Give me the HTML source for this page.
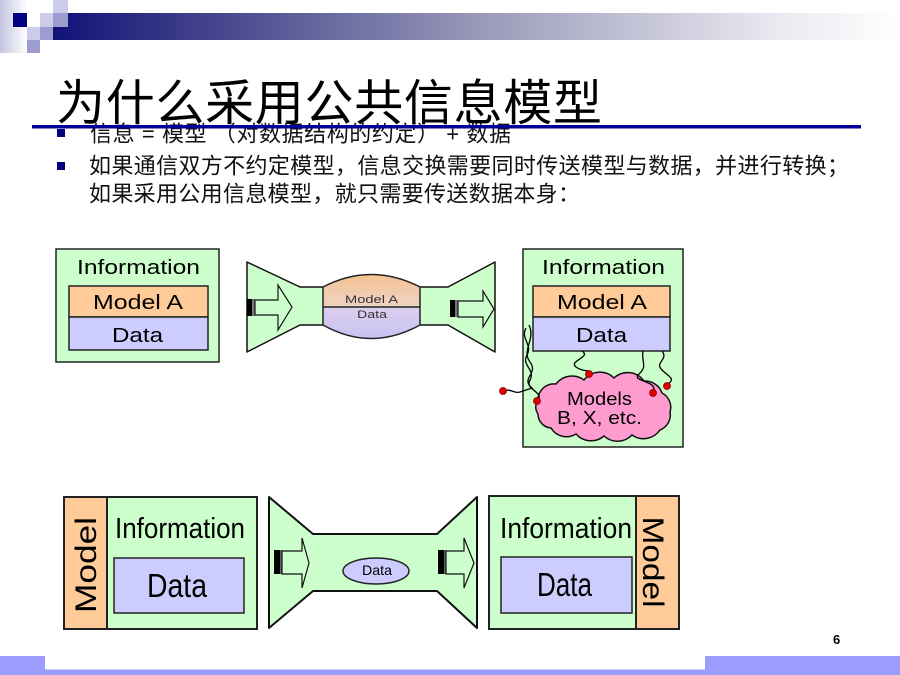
<!DOCTYPE html>
<html><head><meta charset="utf-8"><style>
html,body{margin:0;padding:0;background:#fff;}
svg{display:block;}
</style></head><body>
<svg width="900" height="675" viewBox="0 0 900 675" xmlns="http://www.w3.org/2000/svg">
<defs>
<linearGradient id="bar" x1="0" y1="0" x2="1" y2="0">
<stop offset="0" stop-color="#101078"/>
<stop offset="0.15" stop-color="#3a3a88"/>
<stop offset="0.5" stop-color="#9898b8"/>
<stop offset="0.85" stop-color="#e8e8f0"/>
<stop offset="1" stop-color="#ffffff"/>
</linearGradient>
<linearGradient id="lstrip" x1="0" y1="0" x2="1" y2="0">
<stop offset="0" stop-color="#c4c4e2"/>
<stop offset="1" stop-color="#ffffff"/>
</linearGradient>
<linearGradient id="lens" x1="0" y1="0" x2="0" y2="1">
<stop offset="0" stop-color="#f6c292"/>
<stop offset="0.49" stop-color="#efd2c2"/>
<stop offset="0.5" stop-color="#ddd0ec"/>
<stop offset="1" stop-color="#c6c2f4"/>
</linearGradient>
</defs>

<!-- top decoration -->
<rect x="0" y="0" width="27" height="53" fill="url(#lstrip)"/>
<rect x="53" y="13" width="847" height="27" fill="url(#bar)"/>
<rect x="13" y="13" width="14" height="14" fill="#000080"/>
<rect x="27" y="13" width="13" height="14" fill="#ffffff"/>
<rect x="53" y="0" width="15" height="13" fill="#ccccea"/>
<rect x="40" y="13" width="13" height="14" fill="#ccccea"/>
<rect x="53" y="13" width="15" height="14" fill="#9c9cce"/>
<rect x="27" y="27" width="13" height="13" fill="#ccccea"/>
<rect x="40" y="27" width="13" height="13" fill="#9c9cce"/>
<rect x="27" y="40" width="13" height="13" fill="#9c9cce"/>

<!-- title -->
<text x="56" y="120" font-family="'Liberation Sans','Noto Sans CJK SC',sans-serif" font-size="49" fill="#000" textLength="546" lengthAdjust="spacing">为什么采用公共信息模型</text>

<!-- bullets -->
<rect x="57" y="129" width="8" height="8" fill="#000080"/>
<rect x="57" y="162" width="8" height="8" fill="#000080"/>
<text x="90" y="141.5" font-family="'Liberation Sans','Noto Sans CJK SC',sans-serif" font-size="22" fill="#111" textLength="421" lengthAdjust="spacing">信息 = 模型 （对数据结构的约定） + 数据</text>
<text x="89" y="173.5" font-family="'Liberation Sans','Noto Sans CJK SC',sans-serif" font-size="22" fill="#111" textLength="760" lengthAdjust="spacing">如果通信双方不约定模型，信息交换需要同时传送模型与数据，并进行转换；</text>
<text x="89" y="201.5" font-family="'Liberation Sans','Noto Sans CJK SC',sans-serif" font-size="22" fill="#111" textLength="491" lengthAdjust="spacing">如果采用公用信息模型，就只需要传送数据本身：</text>

<!-- blue rule -->
<rect x="32" y="125" width="829" height="3.5" fill="#000099"/>

<g font-family="'Liberation Sans',sans-serif" fill="#000">
<!-- Box 1 -->
<rect x="56" y="249" width="163" height="113" fill="#ccffcc" stroke="#222" stroke-width="1.5"/>
<text x="77" y="274" font-size="20" textLength="123" lengthAdjust="spacingAndGlyphs">Information</text>
<rect x="69" y="286" width="139" height="31" fill="#ffcc99" stroke="#222" stroke-width="1.5"/>
<rect x="69" y="317" width="139" height="33" fill="#ccccff" stroke="#222" stroke-width="1.5"/>
<text x="93" y="309" font-size="20" textLength="90" lengthAdjust="spacingAndGlyphs">Model A</text>
<text x="112" y="342" font-size="20" textLength="51" lengthAdjust="spacingAndGlyphs">Data</text>

<!-- Pipe 1 -->
<polygon points="247,262 300,287 448,287 495,262 495,352 448,325 300,325 247,352" fill="#ccffcc" stroke="#111" stroke-width="1.5" stroke-linejoin="round"/>
<path d="M323,287 Q371,262 420,287 L420,325 Q371,352 323,325 Z" fill="url(#lens)" stroke="#222" stroke-width="1.5"/>
<line x1="323" y1="307" x2="420" y2="307" stroke="#222" stroke-width="1.5"/>
<text x="345" y="303" font-size="11" fill="#333" textLength="53" lengthAdjust="spacingAndGlyphs">Model A</text>
<text x="357" y="318" font-size="11" fill="#333" textLength="30" lengthAdjust="spacingAndGlyphs">Data</text>
<!-- arrows pipe 1 -->
<rect x="247" y="299" width="5" height="17" fill="#000"/>
<rect x="252" y="299" width="3" height="17" fill="#777"/>
<polygon points="255,300 278,300 278,285 292,307 278,330 278,315 255,315" fill="#ccffcc" stroke="#111" stroke-width="1.2"/>
<rect x="450" y="300" width="5" height="17" fill="#000"/>
<rect x="455" y="300" width="3" height="17" fill="#777"/>
<polygon points="458,301 483,301 483,291 494,309 483,327 483,317 458,317" fill="#ccffcc" stroke="#111" stroke-width="1.2"/>

<!-- Box 2 -->
<rect x="523" y="249" width="160" height="198" fill="#ccffcc" stroke="#222" stroke-width="1.5"/>
<text x="542" y="274" font-size="20" textLength="123" lengthAdjust="spacingAndGlyphs">Information</text>
<rect x="533" y="286" width="137" height="31" fill="#ffcc99" stroke="#222" stroke-width="1.5"/>
<rect x="533" y="317" width="137" height="34" fill="#ccccff" stroke="#222" stroke-width="1.5"/>
<text x="557" y="309" font-size="20" textLength="90" lengthAdjust="spacingAndGlyphs">Model A</text>
<text x="576" y="342" font-size="20" textLength="51" lengthAdjust="spacingAndGlyphs">Data</text>

<!-- cloud -->
<path d="M538,400 A16,16 0 0 1 556,384 A20,20 0 0 1 584,380 A20,20 0 0 1 614,378 A20,20 0 0 1 644,381 A18,18 0 0 1 662,393 A16,16 0 0 1 670,412 A16,16 0 0 1 660,430 A20,20 0 0 1 632,435 A20,20 0 0 1 604,436 A20,20 0 0 1 576,434 A18,18 0 0 1 551,428 A14,14 0 0 1 538,414 A12,12 0 0 1 538,400 Z" fill="#ff9ccf" stroke="#111" stroke-width="1.5"/>
<text x="567" y="405" font-size="18" textLength="65" lengthAdjust="spacingAndGlyphs">Models</text>
<text x="557" y="424" font-size="18" textLength="85" lengthAdjust="spacingAndGlyphs">B, X, etc.</text>

<!-- squiggles -->
<g fill="none" stroke="#000" stroke-width="1.3">
<path d="M526,328 C520,338 533,345 527,355 S536,370 530,380 S546,392 537,401"/>
<path d="M529,325 C536,340 521,350 530,362 S520,378 532,388 L520,392 C514,394 511,388 503,391"/>
<path d="M582,351 C592,357 568,361 576,367 S594,369 588,374"/>
<path d="M643,351 C641,362 648,366 639,374 S660,380 653,393"/>
<path d="M662,351 C669,360 654,362 662,370 S676,378 667,385"/>
</g>
<g fill="#e00000" stroke="#800000" stroke-width="0.8">
<circle cx="503" cy="391" r="3.5"/>
<circle cx="537" cy="401" r="3.5"/>
<circle cx="589" cy="374" r="3.5"/>
<circle cx="653" cy="393" r="3.5"/>
<circle cx="667" cy="386" r="3.5"/>
</g>

<!-- Box 3 -->
<rect x="64" y="497" width="43" height="132" fill="#ffcc99" stroke="#222" stroke-width="2"/>
<rect x="107" y="497" width="150" height="132" fill="#ccffcc" stroke="#222" stroke-width="2"/>
<text transform="translate(96,565) rotate(-90)" x="0" y="0" text-anchor="middle" font-size="30" textLength="96" lengthAdjust="spacingAndGlyphs">Model</text>
<text x="115" y="538" font-size="29" textLength="130" lengthAdjust="spacingAndGlyphs">Information</text>
<rect x="114" y="558" width="130" height="55" fill="#ccccff" stroke="#222" stroke-width="1.5"/>
<text x="147" y="597" font-size="33" textLength="60" lengthAdjust="spacingAndGlyphs">Data</text>

<!-- Pipe 2 -->
<polygon points="269,497 313,534 437,534 477,497 477,628 437,591 313,591 269,628" fill="#ccffcc" stroke="#111" stroke-width="2" stroke-linejoin="round"/>
<ellipse cx="376" cy="571" rx="33" ry="13" fill="#ccccff" stroke="#222" stroke-width="1.5"/>
<text x="362" y="575" font-size="14" textLength="30" lengthAdjust="spacingAndGlyphs">Data</text>
<rect x="274" y="550" width="6" height="24" fill="#000"/>
<rect x="280" y="550" width="2" height="24" fill="#666"/>
<polygon points="282,551 302,551 302,538 309,563 302,588 302,574 282,574" fill="#ccffcc" stroke="#111" stroke-width="1.2"/>
<rect x="438" y="550" width="6" height="24" fill="#000"/>
<rect x="444" y="550" width="2" height="24" fill="#666"/>
<polygon points="446,551 464,551 464,538 474,563 464,588 464,574 446,574" fill="#ccffcc" stroke="#111" stroke-width="1.2"/>

<!-- Box 4 -->
<rect x="489" y="496" width="147" height="133" fill="#ccffcc" stroke="#222" stroke-width="2"/>
<rect x="636" y="496" width="43" height="133" fill="#ffcc99" stroke="#222" stroke-width="2"/>
<text transform="translate(643,562) rotate(90)" x="0" y="0" text-anchor="middle" font-size="30" textLength="91" lengthAdjust="spacingAndGlyphs">Model</text>
<text x="500" y="538" font-size="29" textLength="132" lengthAdjust="spacingAndGlyphs">Information</text>
<rect x="501" y="557" width="131" height="56" fill="#ccccff" stroke="#222" stroke-width="1.5"/>
<text x="537" y="596" font-size="33" textLength="55" lengthAdjust="spacingAndGlyphs">Data</text>

<!-- page number -->
<text x="833" y="644" font-size="13" font-weight="bold">6</text>
</g>

<!-- bottom bars -->
<rect x="0" y="656" width="45" height="19" fill="#9c9cff"/>
<rect x="45" y="670" width="660" height="5" fill="#9c9cff"/>
<rect x="45" y="669" width="660" height="1" fill="#c8c8ff"/>
<rect x="705" y="656" width="195" height="19" fill="#9c9cff"/>
</svg>
</body></html>
